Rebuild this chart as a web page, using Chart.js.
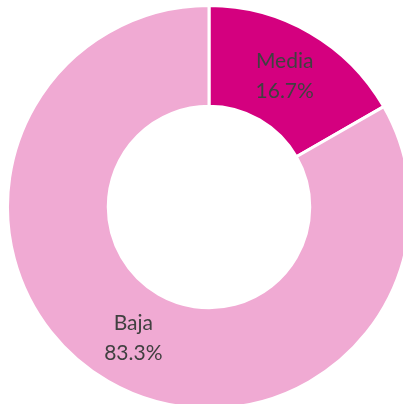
<!DOCTYPE html>
<html>
<head>
<meta charset="utf-8">
<script src="https://cdn.jsdelivr.net/npm/chart.js@4/dist/chart.umd.min.js"></script>
<style>
  html, body { margin:0; padding:0; background:#fff; overflow:hidden; width:403px; height:404px; }
  #wrap { position:absolute; left:6px; top:4px; width:406px; height:406px; }
</style>
</head>
<body>
<div id="wrap"><canvas id="rel1"></canvas></div>
<script>
var labels_list = ['Media', 'Baja'];
var values_list = [16.7, 83.3];
var colors_list = ['#D4007F', '#F0AAD3'];

// labels inside each slice: name + percentage
var sliceLabels = {
  id: 'sliceLabels',
  afterDatasetsDraw: function(chart) {
    var ctx = chart.ctx;
    var meta = chart.getDatasetMeta(0);
    ctx.save();
    ctx.font = '21px Lato';
    ctx.fillStyle = '#404040';
    ctx.textAlign = 'center';
    ctx.textBaseline = 'middle';
    meta.data.forEach(function(arc, i) {
      var p = arc.getCenterPoint();
      ctx.fillText(chart.data.labels[i], p.x, p.y - 15);
      ctx.fillText(values_list[i].toFixed(1) + '%', p.x, p.y + 15);
    });
    ctx.restore();
  }
};

var rel1 = new Chart(document.getElementById("rel1"), {
    type:'doughnut',
    data:{
      labels:labels_list,
      datasets:[{
              data:values_list,
              backgroundColor:colors_list,
              borderColor:'#FFFFFF',
              borderWidth:3
      }]
    },
    options:{
      responsive:true,
      maintainAspectRatio:false,
      animation:false,
      cutout:'50%',
      layout:{padding:0},
      plugins:{
        legend:{display:false},
        tooltip:{enabled:false}
      }
    },
    plugins:[sliceLabels]
});
</script>
</body>
</html>
